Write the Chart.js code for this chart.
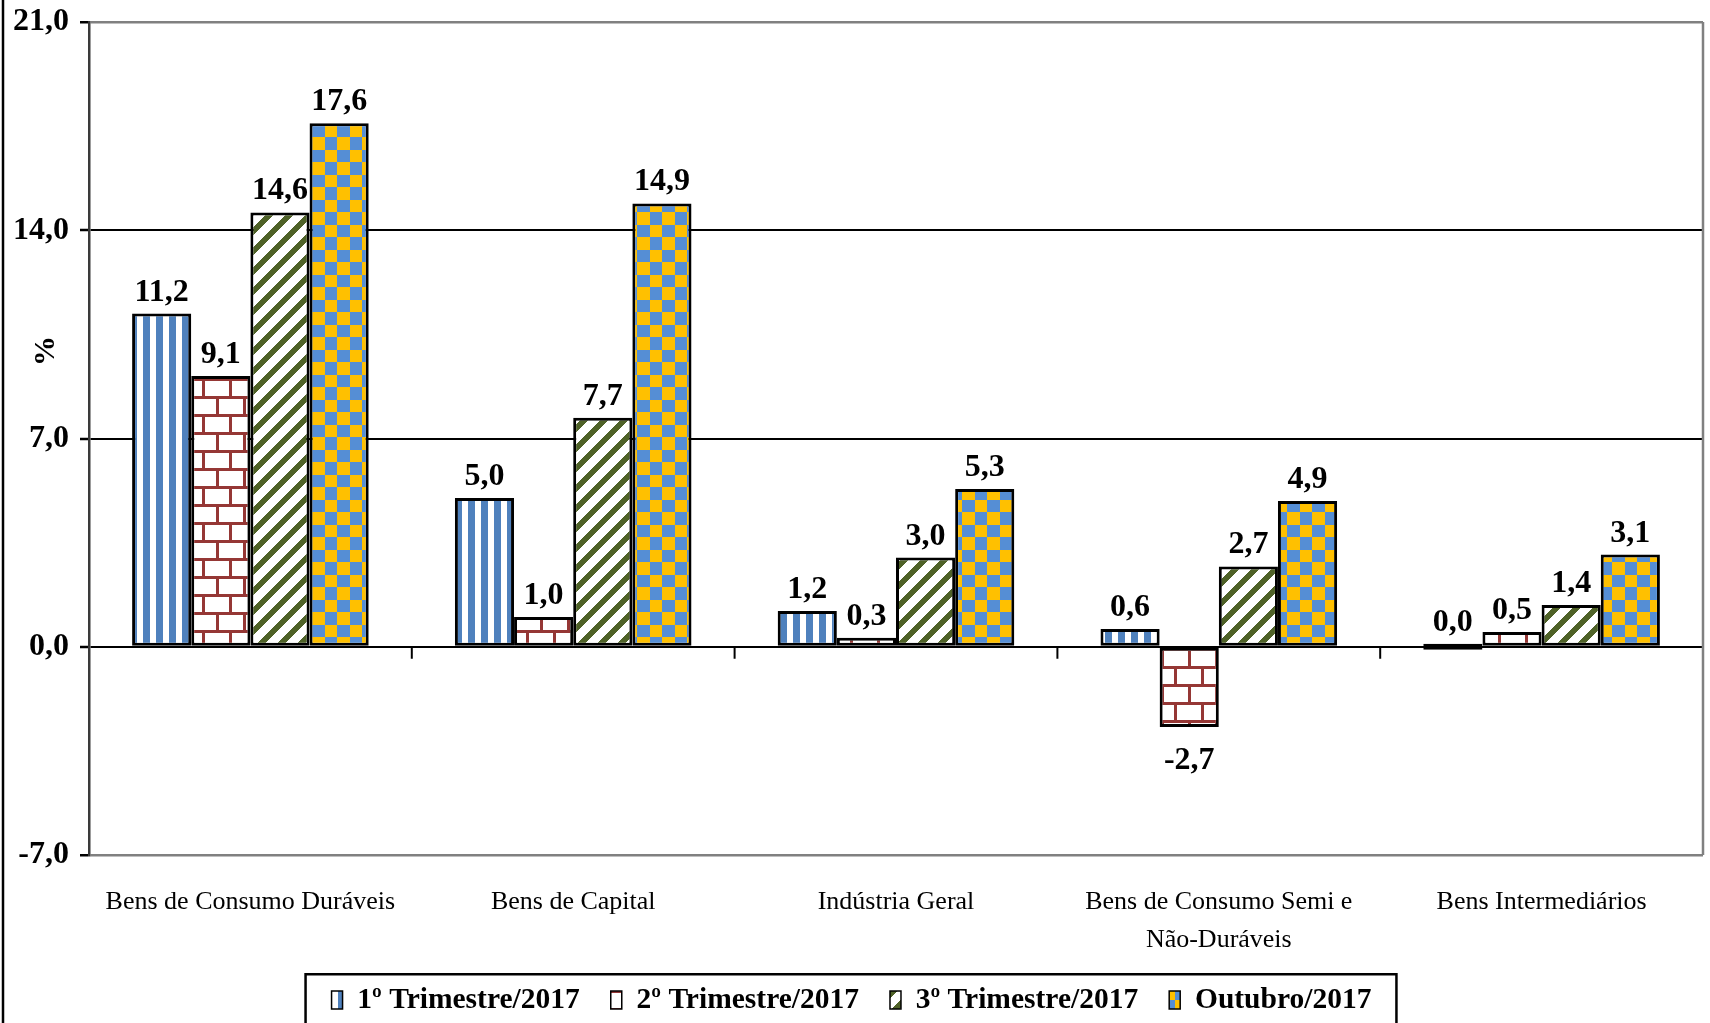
<!DOCTYPE html>
<html><head><meta charset="utf-8">
<script src="https://cdn.jsdelivr.net/npm/chart.js@4.4.0/dist/chart.umd.min.js"></script>
<style>html,body{margin:0;padding:0;background:#fff}#wrap{width:1710px;height:1023px;position:relative}</style>
</head><body><div id="wrap"><canvas id="c"></canvas></div>
<script>
const categories = ['Bens de Consumo Duráveis', 'Bens de Capital', 'Indústria Geral', ['Bens de Consumo Semi e', 'Não-Duráveis'], 'Bens Intermediários'];
const seriesNames = ['1º Trimestre/2017', '2º Trimestre/2017', '3º Trimestre/2017', 'Outubro/2017'];
const q1 = [11.2, 5.0, 1.2, 0.6, 0.0];
const q2 = [9.1, 1.0, 0.3, -2.7, 0.5];
const q3 = [14.6, 7.7, 3.0, 2.7, 1.4];
const oct = [17.6, 14.9, 5.3, 4.9, 3.1];
const yMin = -7, yMax = 21, yStep = 7;

function fmt(v){ return v.toFixed(1).replace('.', ','); }
function makeTile(w,h,draw){const c=document.createElement('canvas');c.width=w;c.height=h;const x=c.getContext('2d');x.fillStyle='#fff';x.fillRect(0,0,w,h);draw(x,w,h);return c;}
const ctx = document.getElementById('c').getContext('2d');
const pStripes = ctx.createPattern(makeTile(13,4,(x)=>{x.fillStyle='#4F81BD';x.fillRect(0,0,7,4);}),'repeat');
const pBrick = ctx.createPattern(makeTile(27,36,(x)=>{x.fillStyle='#953735';x.fillRect(0,0,27,3);x.fillRect(0,18,27,3);x.fillRect(0,0,3,18);x.fillRect(13,18,3,18);}),'repeat');
const pDiag = ctx.createPattern(makeTile(20,20,(x,w,h)=>{x.fillStyle='#4F6228';for(let i=0;i<w;i++)for(let j=0;j<h;j++){if(((i+j)%20)<8)x.fillRect(i,j,1,1);}}),'repeat');
const pCheck = ctx.createPattern(makeTile(25,25,(x)=>{x.fillStyle='#FFC000';x.fillRect(0,0,25,25);x.fillStyle='#558ED5';x.fillRect(12,0,13,12);x.fillRect(0,12,12,13);}),'repeat');
const fills = [pStripes, pBrick, pDiag, pCheck];
const seriesData = [q1, q2, q3, oct];

const deco = {
  id: 'deco',
  afterDraw(chart){
    const c = chart.ctx, ca = chart.chartArea, xs = chart.scales.x, ys = chart.scales.y;
    c.save();
    // right plot border
    c.strokeStyle = '#808080'; c.lineWidth = 2.5;
    c.beginPath(); c.moveTo(ca.right, ca.top); c.lineTo(ca.right, ca.bottom); c.stroke();
    // category tick marks on zero line
    const y0 = ys.getPixelForValue(0);
    c.strokeStyle = '#000'; c.lineWidth = 2;
    for (let i = 1; i < categories.length; i++) {
      const bx = (xs.getPixelForValue(i-1) + xs.getPixelForValue(i)) / 2;
      c.beginPath(); c.moveTo(bx, y0); c.lineTo(bx, y0 + 12); c.stroke();
    }
    // outer left border
    c.strokeStyle = '#000'; c.lineWidth = 2.5;
    c.beginPath(); c.moveTo(3, 0); c.lineTo(3, chart.height); c.stroke();
    // data labels
    c.fillStyle = '#000'; c.font = 'bold 32px "Liberation Serif"'; c.textAlign = 'center'; c.textBaseline = 'alphabetic';
    chart.data.datasets.forEach((ds, di) => {
      const meta = chart.getDatasetMeta(di);
      meta.data.forEach((el, j) => {
        const v = ds.data[j];
        if (v >= 0) c.fillText(fmt(v), el.x, Math.min(el.y, el.base) - 13);
        else c.fillText(fmt(v), el.x, el.y + 42);
      });
    });
    // y axis title
    c.save(); c.translate(46, 351); c.rotate(-Math.PI/2);
    c.font = 'bold 30px "Liberation Serif"'; c.textBaseline = 'middle'; c.fillText('%', 0, 0);
    c.restore();
    // legend frame
    const hb = chart.legend && chart.legend.legendHitBoxes;
    if (hb && hb.length) {
      const last = hb[hb.length-1];
      c.strokeStyle = '#000'; c.lineWidth = 2.5;
      const lx = hb[0].left - 26;
      c.strokeRect(lx, hb[0].top - 11, (last.left + last.width + 25) - lx, 90);
    }
    c.restore();
  }
};

new Chart(ctx, {
  type: 'bar',
  data: {
    labels: categories,
    datasets: seriesNames.map((n, i) => ({label: n, data: seriesData[i], backgroundColor: fills[i]}))
  },
  options: {
    responsive: true, maintainAspectRatio: false, animation: false, devicePixelRatio: 1,
    layout: {padding: {top: 22, right: 7, left: 0, bottom: -1.75}},
    datasets: {bar: {barPercentage: 1, categoryPercentage: 0.733, borderColor: '#000', borderWidth: 3, borderSkipped: false, minBarLength: 6}},
    scales: {
      x: {
        grid: {display: false, drawTicks: false}, border: {display: false},
        ticks: {font: {family: 'Liberation Serif', size: 26, lineHeight: 1.46}, color: '#000', padding: 28, maxRotation: 0, autoSkip: false},
        afterFit: (s) => { s.height = 99.25; }
      },
      y: {
        min: yMin, max: yMax,
        ticks: {stepSize: yStep, font: {family: 'Liberation Serif', weight: 'bold', size: 32, lineHeight: 0.65}, color: '#000', padding: 11, callback: v => fmt(v)},
        grid: {
          color: (g) => (g.tick && (g.tick.value === yMax || g.tick.value === yMin)) ? '#808080' : '#000',
          lineWidth: (g) => (g.tick && (g.tick.value === yMax || g.tick.value === yMin)) ? 2.5 : 2,
          tickLength: 9, tickColor: '#000', tickWidth: 2.5
        },
        border: {color: '#3a3a3a', width: 2.5},
        afterFit: (s) => { s.width = 89; }
      }
    },
    plugins: {
      legend: {
        position: 'bottom',
        labels: {
          font: {family: 'Liberation Serif', weight: 'bold', size: 29.5}, color: '#000', boxWidth: 11, boxHeight: 18, padding: 31,
          generateLabels: (chart) => Chart.defaults.plugins.legend.labels.generateLabels(chart).map(l => Object.assign(l, {lineWidth: 1.5, strokeStyle: '#000'}))
        }
      },
      tooltip: {enabled: false}
    }
  },
  plugins: [deco]
});
</script></body></html>
